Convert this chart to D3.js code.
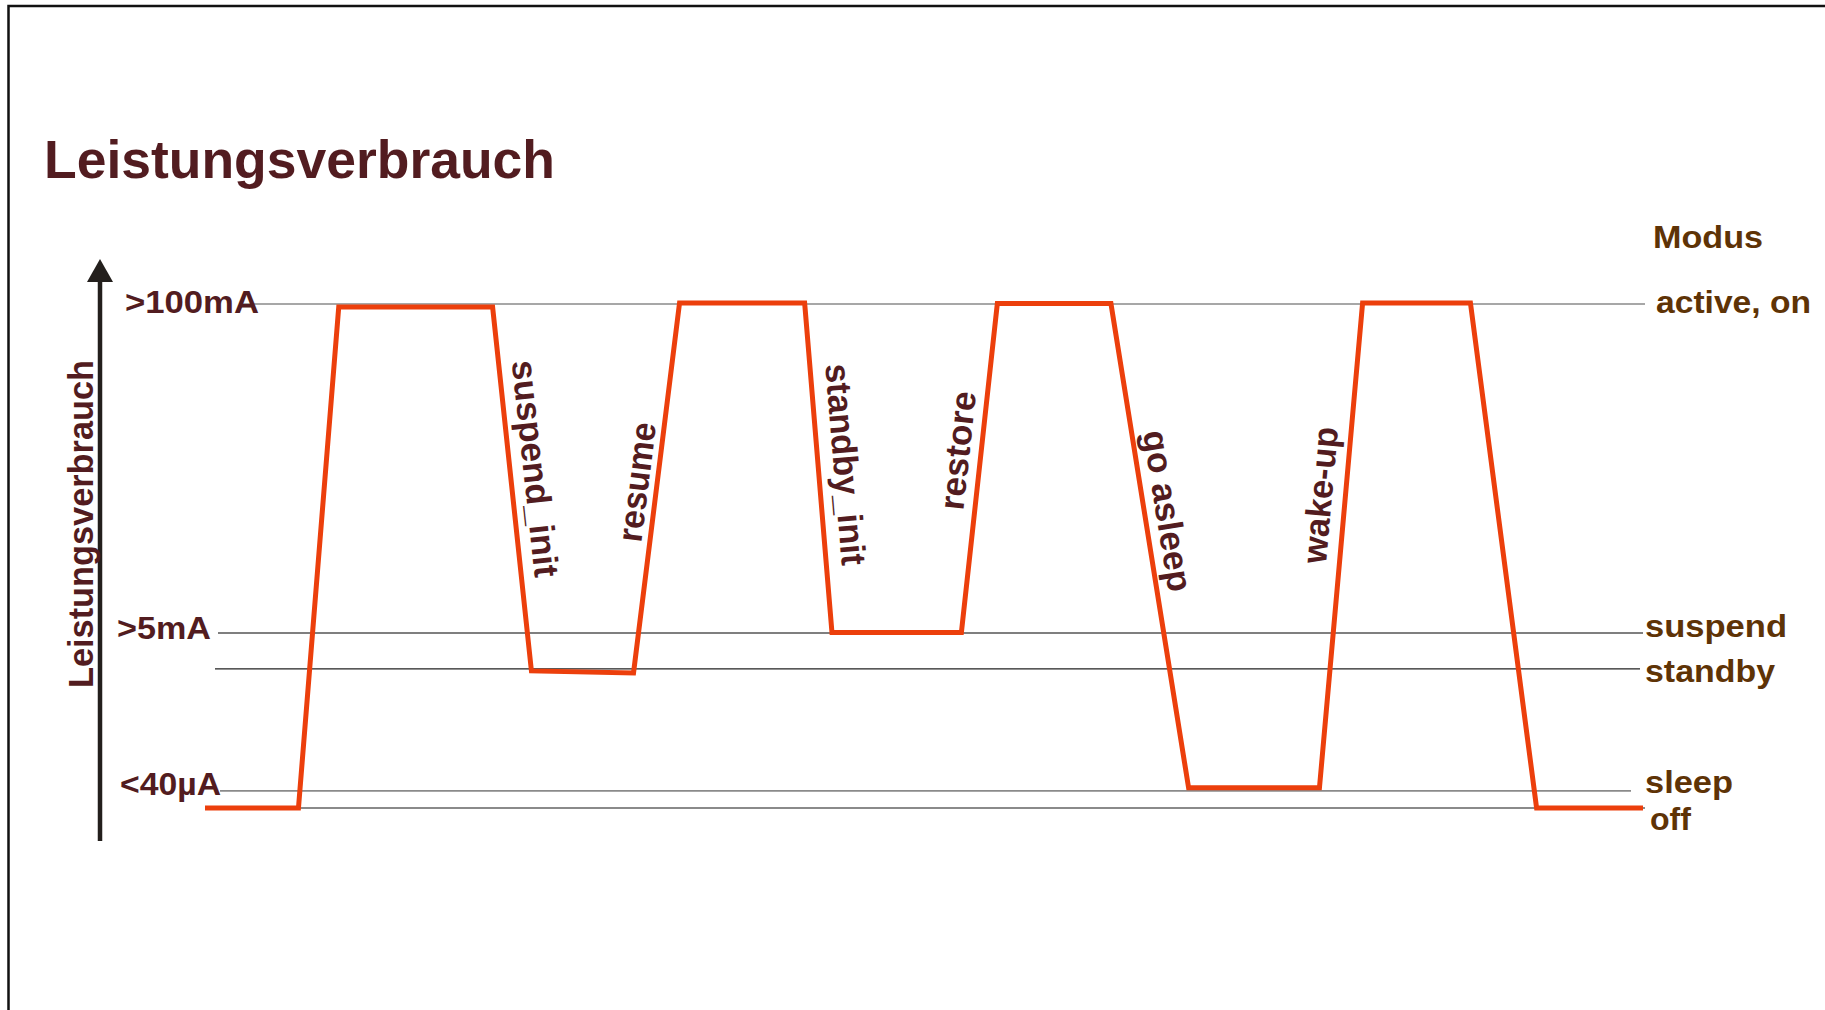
<!DOCTYPE html>
<html>
<head>
<meta charset="utf-8">
<script src="https://cdn.jsdelivr.net/npm/d3@7"></script>
<style>
    body { margin: 0; background: #fff; }
    svg { display: block; font-family: "Liberation Sans", Arial, sans-serif; }
</style>
</head>
<body>
<div class="d3-container"></div>
<script>
// modes (right side) and their level on the relative consumption scale
var modeNames = ["active, on", "suspend", "standby", "sleep", "off"];
var modeLevels = [100, 34.7, 27.6, 3.4, 0];

// current labels on the left
var tickLabels = [">100mA", ">5mA", "<40µA"];
var tickLevels = [100, 34.7, 3.4];

// consumption curve: time (0..100) and level
var curveTime = [0, 6.5, 9.3, 20.0, 22.7, 29.8, 33.0, 41.7, 43.6, 52.6, 55.1, 63.0, 68.4, 77.5, 80.5, 88.0, 92.6, 100];
var curveLevel = [0, 0, 99.4, 99.4, 27.2, 26.8, 100.2, 100.2, 34.8, 34.8, 100.1, 100.1, 4.0, 4.0, 100.2, 100.2, 0, 0];

// transitions, each written along one edge of the curve (index of its start point)
var transitionNames = ["suspend_init", "resume", "standby_init", "restore", "go asleep", "wake-up"];
var transitionEdge = [3, 5, 7, 9, 11, 13];

var width = 1825,
    height = 1010;

var maroon = "#521c20",
    brown = "#5e3306",
    red = "#ec3f0c";

var svg = d3.select(".d3-container").append("svg")
    .attr("width", width)
    .attr("height", height);

// frame (only top and left edges are visible in the picture)
svg.append("path")
    .attr("d", "M8.5," + height + " V6 H" + width)
    .attr("fill", "none")
    .attr("stroke", "#111")
    .attr("stroke-width", 2.5);

var x = d3.scaleLinear().domain([0, 100]).range([205, 1643]);
var y = d3.scaleLinear().domain([0, 100]).range([808, 304]);

// title
svg.append("text")
    .attr("x", 44)
    .attr("y", 178)
    .attr("fill", maroon)
    .style("font-size", "53px")
    .style("font-weight", "bold")
    .attr("textLength", 511)
    .attr("lengthAdjust", "spacingAndGlyphs")
    .text("Leistungsverbrauch");

// vertical axis arrow
var axisX = 100;
svg.append("line")
    .attr("x1", axisX).attr("x2", axisX)
    .attr("y1", 841).attr("y2", 278)
    .attr("stroke", "#231f1c")
    .attr("stroke-width", 4.5);
svg.append("path")
    .attr("d", "M" + axisX + ",259 L" + (axisX + 13) + ",282 L" + (axisX - 13) + ",282 Z")
    .attr("fill", "#231f1c");

svg.append("text")
    .attr("transform", "translate(93,524) rotate(-90)")
    .attr("text-anchor", "middle")
    .attr("fill", maroon)
    .style("font-size", "35px")
    .style("font-weight", "bold")
    .attr("textLength", 328)
    .attr("lengthAdjust", "spacingAndGlyphs")
    .text("Leistungsverbrauch");

// mode lines: start x, end x, colour, width
var lineStyle = [
    {x0: 240, x1: 1645, c: "#8a8a8a", w: 1.6},
    {x0: 218, x1: 1643, c: "#555", w: 1.5},
    {x0: 215, x1: 1640, c: "#222", w: 1.3},
    {x0: 220, x1: 1631, c: "#8a8a8a", w: 1.8},
    {x0: 205, x1: 1645, c: "#8a8a8a", w: 1.8}
];

svg.selectAll("line.mode")
    .data(modeLevels)
    .enter().append("line")
    .attr("class", "mode")
    .attr("x1", function(d, i) { return lineStyle[i].x0; })
    .attr("x2", function(d, i) { return lineStyle[i].x1; })
    .attr("y1", function(d) { return y(d); })
    .attr("y2", function(d) { return y(d); })
    .attr("stroke", function(d, i) { return lineStyle[i].c; })
    .attr("stroke-width", function(d, i) { return lineStyle[i].w; });

// left current labels
var tickStyle = [{x: 125, dy: 9, len: 134}, {x: 117, dy: 6, len: 94}, {x: 120, dy: 4, len: 101}];
svg.selectAll("text.tick")
    .data(tickLabels)
    .enter().append("text")
    .attr("class", "tick")
    .attr("x", function(d, i) { return tickStyle[i].x; })
    .attr("y", function(d, i) { return y(tickLevels[i]) + tickStyle[i].dy; })
    .attr("fill", maroon)
    .style("font-size", "32px")
    .style("font-weight", "bold")
    .attr("textLength", function(d, i) { return tickStyle[i].len; })
    .attr("lengthAdjust", "spacingAndGlyphs")
    .text(function(d) { return d; });

// right mode labels
svg.append("text")
    .attr("x", 1653)
    .attr("y", 248)
    .attr("fill", brown)
    .style("font-size", "31px")
    .style("font-weight", "bold")
    .attr("textLength", 110)
    .attr("lengthAdjust", "spacingAndGlyphs")
    .text("Modus");

var modeStyle = [{x: 1656, dy: 9, len: 155}, {x: 1645, dy: 4, len: 142}, {x: 1645, dy: 13, len: 130},
    {x: 1645, dy: 2, len: 88}, {x: 1650, dy: 22, len: 41}];
svg.selectAll("text.mode")
    .data(modeNames)
    .enter().append("text")
    .attr("class", "mode")
    .attr("x", function(d, i) { return modeStyle[i].x; })
    .attr("y", function(d, i) { return y(modeLevels[i]) + modeStyle[i].dy; })
    .attr("fill", brown)
    .style("font-size", "31px")
    .style("font-weight", "bold")
    .attr("textLength", function(d, i) { return modeStyle[i].len; })
    .attr("lengthAdjust", "spacingAndGlyphs")
    .text(function(d) { return d; });

// consumption curve
var points = curveTime.map(function(t, i) { return [t, curveLevel[i]]; });
var line = d3.line()
    .x(function(d) { return x(d[0]); })
    .y(function(d) { return y(d[1]); });

svg.append("path")
    .datum(points)
    .attr("d", line)
    .attr("fill", "none")
    .attr("stroke", red)
    .attr("stroke-width", 5)
    .attr("stroke-linejoin", "miter");

// transition labels, rotated along their edge
var labelStyle = [
    {f: 0.444, dx: 25, len: 218},
    {f: 0.516, dx: -20, len: 120},
    {f: 0.49, dx: 27, len: 202},
    {f: 0.553, dx: -23, len: 119},
    {f: 0.428, dx: 23, len: 163},
    {f: 0.604, dx: -25, len: 137}
];

svg.selectAll("text.transition")
    .data(transitionNames)
    .enter().append("text")
    .attr("class", "transition")
    .attr("transform", function(d, i) {
        var a = points[transitionEdge[i]], b = points[transitionEdge[i] + 1];
        var ax = x(a[0]), ay = y(a[1]), bx = x(b[0]), by = y(b[1]);
        var s = labelStyle[i];
        var px = ax + (bx - ax) * s.f + s.dx,
            py = ay + (by - ay) * s.f;
        var angle = Math.atan2(by - ay, bx - ax) * 180 / Math.PI;
        return "translate(" + px + "," + py + ") rotate(" + angle + ")";
    })
    .attr("text-anchor", "middle")
    .attr("dy", "0.33em")
    .attr("fill", maroon)
    .style("font-size", "35px")
    .style("font-weight", "bold")
    .attr("textLength", function(d, i) { return labelStyle[i].len; })
    .attr("lengthAdjust", "spacingAndGlyphs")
    .text(function(d) { return d; });
</script>
</body>
</html>
